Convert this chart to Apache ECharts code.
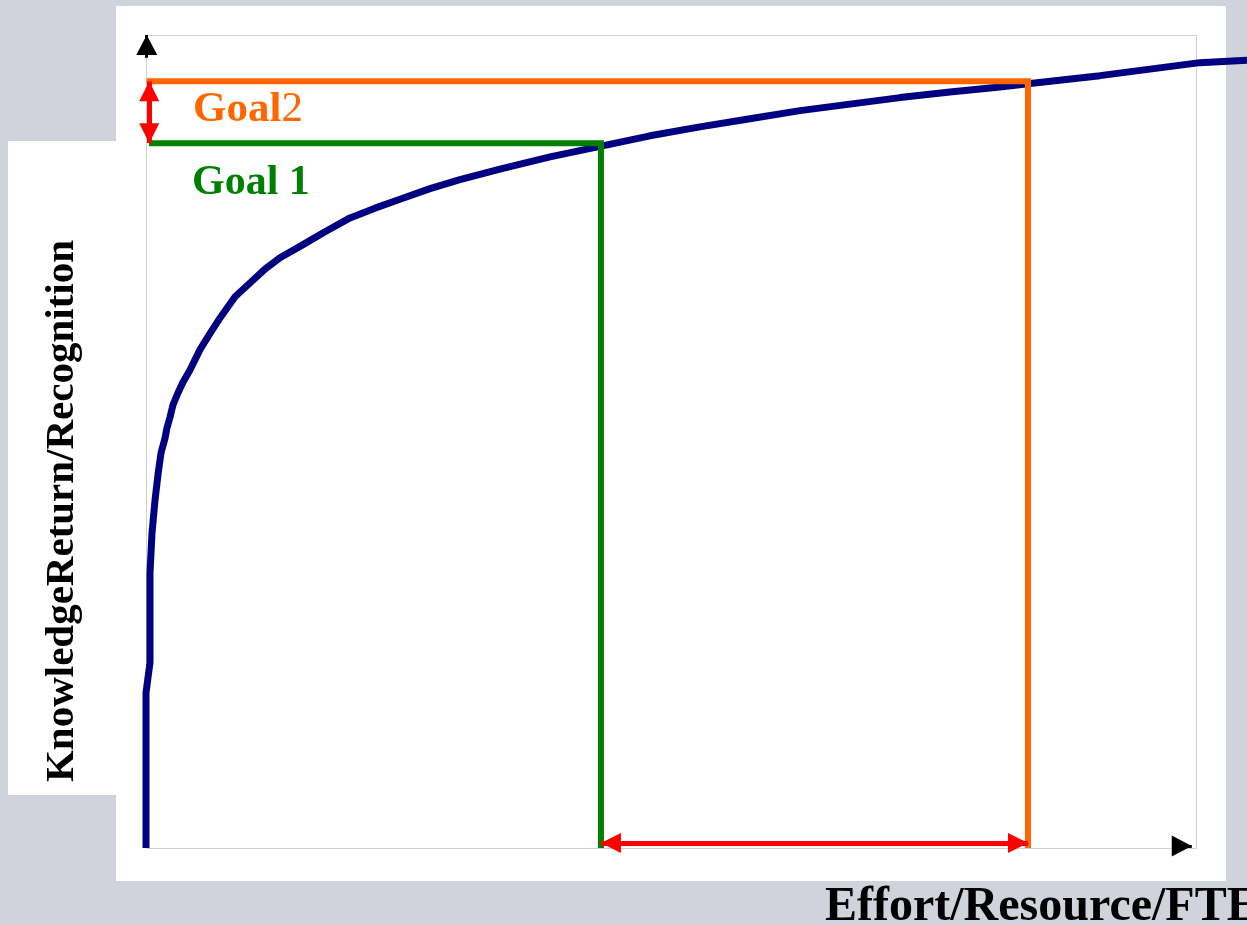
<!DOCTYPE html>
<html>
<head>
<meta charset="utf-8">
<script src="https://cdn.jsdelivr.net/npm/echarts@6/dist/echarts.min.js"></script>
<style>
  html, body { margin: 0; padding: 0; background: #d0d3db; }
  #chart { width: 1247px; height: 925px; }
</style>
</head>
<body>
<div id="chart"></div>
<script>
// effort (x) vs knowledge return (y); the framed box spans 0..100 on both
const effort = [0, 0, 0.38, 0.38, 0.57, 0.86, 1.14, 1.43, 1.81, 2.0,
  2.29, 2.57, 3.05, 3.52, 4.19, 5.14, 6.10, 7.05, 8.48, 9.90,
  11.33, 12.76, 14.67, 17.05, 19.43, 21.81, 24.19, 27.05, 29.90, 33.71,
  38.48, 43.24, 48.0, 52.76, 57.52, 62.29, 67.05, 71.81, 76.57, 81.33,
  84.0, 90.86, 95.62, 100.38, 104.86];
const knowledge = [0, 19.1, 22.8, 33.8, 38.7, 42.8, 45.9, 48.6, 50.4, 51.7,
  53.0, 54.5, 56.0, 57.3, 58.8, 61.3, 63.3, 65.2, 67.8, 69.5,
  71.2, 72.6, 74.0, 75.8, 77.5, 78.7, 79.8, 81.1, 82.2, 83.5,
  85.0, 86.3, 87.6, 88.7, 89.7, 90.7, 91.5, 92.3, 93.0, 93.6,
  94.0, 95.0, 95.8, 96.6, 96.9];

const goalNames = ['Goal 1', 'Goal2'];
const goalLevels = [86.7, 94.3];
const goalEfforts = [43.33, 84.0];
const goalColors = ['#008000', '#ff6600'];

// axis arrow heads and the red span arrows
const axisArrowUp = [[0.07, 97.2], [0.07, 100]];
const axisArrowRight = [[98.0, 0.25], [99.6, 0.25]];
const spanArrowY = 0.62;
const spanArrowX = 0.31;

const chart = echarts.init(document.getElementById('chart'));

const curveData = effort.map((x, i) => [x, knowledge[i]]);

const goalSeries = goalNames.map((name, i) => ({
  name: name,
  type: 'line',
  data: [
    [i === 0 ? 0.29 : 0.07, goalLevels[i]],
    [goalEfforts[i], goalLevels[i]],
    [goalEfforts[i], 0]
  ],
  showSymbol: false,
  clip: false,
  silent: true,
  animation: false,
  lineStyle: { color: goalColors[i], width: 6, join: 'miter', cap: 'butt' },
  z: 3
}));

const arrowEnd = (coord, symbol, size) => ({ coord: coord, symbol: symbol, symbolSize: size });
const withStyle = (pair, color, width) =>
  pair.map(p => Object.assign(p, { lineStyle: { color: color, width: width, type: 'solid' } }));

const options = {
  backgroundColor: '#d0d3db',
  animation: false,
  // x runs past the framed box (to the canvas edge) so the curve can leave it on the right
  grid: {
    left: 146,
    top: 35,
    width: 1101,
    height: 813,
    show: false,
    outerBoundsMode: 'none'
  },
  xAxis: {
    type: 'value',
    min: 0,
    max: 104.86,
    axisLine: { show: false },
    axisTick: { show: false },
    axisLabel: { show: false },
    splitLine: { show: false }
  },
  yAxis: {
    type: 'value',
    min: 0,
    max: 100,
    axisLine: { show: false },
    axisTick: { show: false },
    axisLabel: { show: false },
    splitLine: { show: false }
  },
  graphic: [
    { type: 'rect', z: -1, shape: { x: 116, y: 6, width: 1110, height: 875 }, style: { fill: '#ffffff' } },
    { type: 'rect', z: -1, shape: { x: 8, y: 141, width: 108, height: 654 }, style: { fill: '#ffffff' } },
    {
      type: 'rect', z: -1, shape: { x: 146.5, y: 35.5, width: 1050, height: 813 },
      style: { fill: 'none', stroke: '#cfcfcf', lineWidth: 1 }
    },
    {
      type: 'text', z: 100, x: 62, y: 511, rotation: Math.PI / 2,
      style: {
        text: 'KnowledgeReturn/Recognition',
        font: 'bold 41px "Liberation Serif", "Times New Roman", serif',
        fill: '#000', align: 'center', verticalAlign: 'middle'
      }
    },
    {
      type: 'text', z: 100, x: 825, y: 908,
      style: {
        text: 'Effort/Resource/FTE',
        font: 'bold 48px "Liberation Serif", "Times New Roman", serif',
        fill: '#000', align: 'left', verticalAlign: 'middle'
      }
    },
    {
      type: 'text', z: 100, x: 193, y: 110,
      style: {
        text: '{b|Goal}{r|2}',
        align: 'left', verticalAlign: 'middle',
        rich: {
          b: { font: 'bold 43px "Liberation Serif", serif', fill: goalColors[1] },
          r: { font: '43px "Liberation Serif", serif', fill: goalColors[1] }
        }
      }
    },
    {
      type: 'text', z: 100, x: 192, y: 183,
      style: {
        text: goalNames[0],
        font: 'bold 42px "Liberation Serif", serif',
        fill: goalColors[0], align: 'left', verticalAlign: 'middle'
      }
    }
  ],
  series: [
    {
      name: 'curve',
      type: 'line',
      data: curveData,
      showSymbol: false,
      clip: false,
      silent: true,
      lineStyle: { color: '#000080', width: 7 },
      z: 2
    },
    ...goalSeries,
    {
      name: 'arrows',
      type: 'line',
      data: [],
      silent: true,
      clip: false,
      z: 4,
      markLine: {
        silent: true,
        animation: false,
        label: { show: false },
        emphasis: { disabled: true },
        symbolOffset: [[0, '50%'], [0, '50%']],
        data: [
          withStyle([
            arrowEnd([goalEfforts[0], spanArrowY], 'triangle', [20, 20]),
            arrowEnd([goalEfforts[1], spanArrowY], 'triangle', [20, 20])
          ], '#ff0000', 5),
          withStyle([
            arrowEnd([spanArrowX, goalLevels[1]], 'triangle', [20, 20]),
            arrowEnd([spanArrowX, goalLevels[0]], 'triangle', [20, 20])
          ], '#ff0000', 5),
          withStyle([
            arrowEnd(axisArrowUp[0], 'none', 0),
            arrowEnd(axisArrowUp[1], 'triangle', [21, 20])
          ], '#000000', 3),
          withStyle([
            arrowEnd(axisArrowRight[0], 'none', 0),
            arrowEnd(axisArrowRight[1], 'triangle', [21, 20])
          ], '#000000', 3)
        ]
      }
    }
  ]
};

chart.setOption(options);
</script>
</body>
</html>
